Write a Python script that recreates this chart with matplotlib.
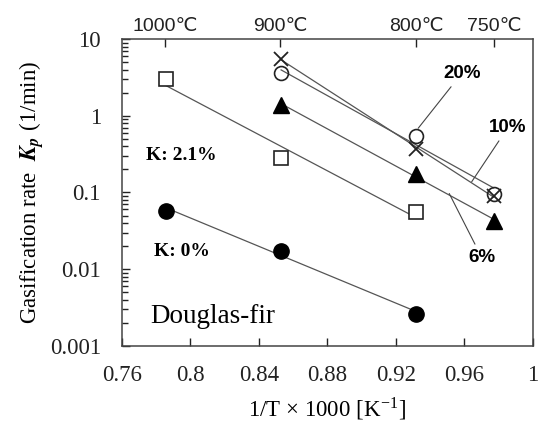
import matplotlib
matplotlib.use("Agg")
import matplotlib.pyplot as plt
import numpy as np
from matplotlib.ticker import LogLocator, NullFormatter, FixedLocator

# 1/T x 1000 [1/K] at the test temperatures
x_high = [0.786, 0.853, 0.932]   # 1000, 900, 800 C
x_low = [0.853, 0.932, 0.977]    # 900, 800, 750 C

# gasification rate Kp (1/min)
k0 = [0.058, 0.0174, 0.0026]
k21 = [3.0, 0.28, 0.055]
k6 = [1.39, 0.175, 0.042]
k10 = [5.5, 0.37, 0.090]
k20 = [3.6, 0.55, 0.096]

temps_c = [1000, 900, 800, 750]
temp_labels = ["1000\u2103", "900\u2103", "800\u2103", "750\u2103"]

x_ticks = [0.76, 0.8, 0.84, 0.88, 0.92, 0.96, 1.0]
x_ticklabels = ["0.76", "0.8", "0.84", "0.88", "0.92", "0.96", "1"]
y_ticks = [0.001, 0.01, 0.1, 1, 10]
y_ticklabels = ["0.001", "0.01", "0.1", "1", "10"]

plt.rcParams['mathtext.fontset'] = 'stix'
serif = ['Liberation Serif', 'DejaVu Serif']
sans = ['Liberation Sans', 'DejaVu Sans']

fig = plt.figure(figsize=(5.4, 4.24), dpi=100)
ax = fig.add_axes([0.2254, 0.1847, 0.7617, 0.7226])

line_kw = dict(color='#555555', lw=0.9, zorder=1)


def fit_line(x, y):
    # Arrhenius fit: straight line in log10(Kp) vs 1/T
    p = np.polyfit(x, np.log10(y), 1)
    xs = np.array([min(x), max(x)])
    ax.plot(xs, 10 ** np.polyval(p, xs), **line_kw)


for x, y in [(x_high, k0), (x_high, k21), (x_low, k6), (x_low, k10), (x_low, k20)]:
    fit_line(x, y)

ax.plot(x_high, k0, 'o', ms=11, mfc='black', mec='black', ls='none', zorder=3)
ax.plot(x_high, k21, 's', ms=10.5, mfc='white', mec='#222222', mew=1.2, ls='none', zorder=3)
ax.plot(x_low, k6, '^', ms=11, mfc='black', mec='black', ls='none', zorder=3)
ax.plot(x_low, k10, 'x', ms=10, mec='#222222', mew=1.3, ls='none', zorder=3)
ax.plot(x_low, k20, 'o', ms=10, mfc='none', mec='#222222', mew=1.2, ls='none', zorder=3)

ax.set_yscale('log')
ax.set_xlim(0.76, 1.0)
ax.set_ylim(0.001, 10)
ax.set_xticks(x_ticks)
ax.set_xticklabels(x_ticklabels, family=serif, fontsize=16.5)
ax.yaxis.set_major_locator(FixedLocator(y_ticks))
ax.set_yticklabels(y_ticklabels, family=serif, fontsize=16.5)
ax.yaxis.set_minor_locator(LogLocator(base=10, subs=np.arange(2, 10), numticks=20))
ax.yaxis.set_minor_formatter(NullFormatter())
ax.tick_params(axis='x', direction='in', length=6, width=1, pad=14, colors='#222222')
ax.tick_params(axis='y', which='major', direction='in', length=6, width=1, pad=15, colors='#222222')
ax.tick_params(axis='y', which='minor', direction='in', length=4, width=1, colors='#222222')
for s in ax.spines.values():
    s.set_color('#444444')
    s.set_linewidth(1.1)

# temperature scale on top
top = ax.twiny()
top.set_xlim(ax.get_xlim())
top.set_xticks([1000 / (t + 273.15) for t in temps_c])
top.set_xticklabels(temp_labels, family=sans, fontsize=14)
top.tick_params(axis='x', direction='in', length=6, width=1, pad=3, colors='#222222')
for s in top.spines.values():
    s.set_visible(False)

ax.set_xlabel("1/T \u00d7 1000 [K$^{\\mathregular{-1}}$]", family=serif, fontsize=16.5, labelpad=7)
ax.set_ylabel("Gasification rate  $\\mathbfit{K_p}$ (1/min)", family=serif, fontsize=16.5, labelpad=3)

ax.text(0.795, 0.30, "K: 2.1%", family=serif, fontsize=14, fontweight='bold', ha='center', va='center')
ax.text(0.795, 0.0172, "K: 0%", family=serif, fontsize=14, fontweight='bold', ha='center', va='center')
ax.text(0.7765, 0.00244, "Douglas-fir", family=serif, fontsize=19.5, ha='left', va='center')

ann = dict(arrowstyle='-', color='#444444', lw=0.8, shrinkA=2, shrinkB=0)
ax.annotate("20%", xy=(0.933, 0.69), xytext=(0.9584, 3.6), family=sans, fontsize=13.5,
            fontweight='bold', ha='center', va='center', arrowprops=ann)
ax.annotate("10%", xy=(0.9642, 0.138), xytext=(0.9854, 0.71), family=sans, fontsize=13.5,
            fontweight='bold', ha='center', va='center', arrowprops=ann)
ax.annotate("6%", xy=(0.9511, 0.097), xytext=(0.9702, 0.014), family=sans, fontsize=13.5,
            fontweight='bold', ha='center', va='center', arrowprops=ann)

fig.savefig("out.png", dpi=100)
